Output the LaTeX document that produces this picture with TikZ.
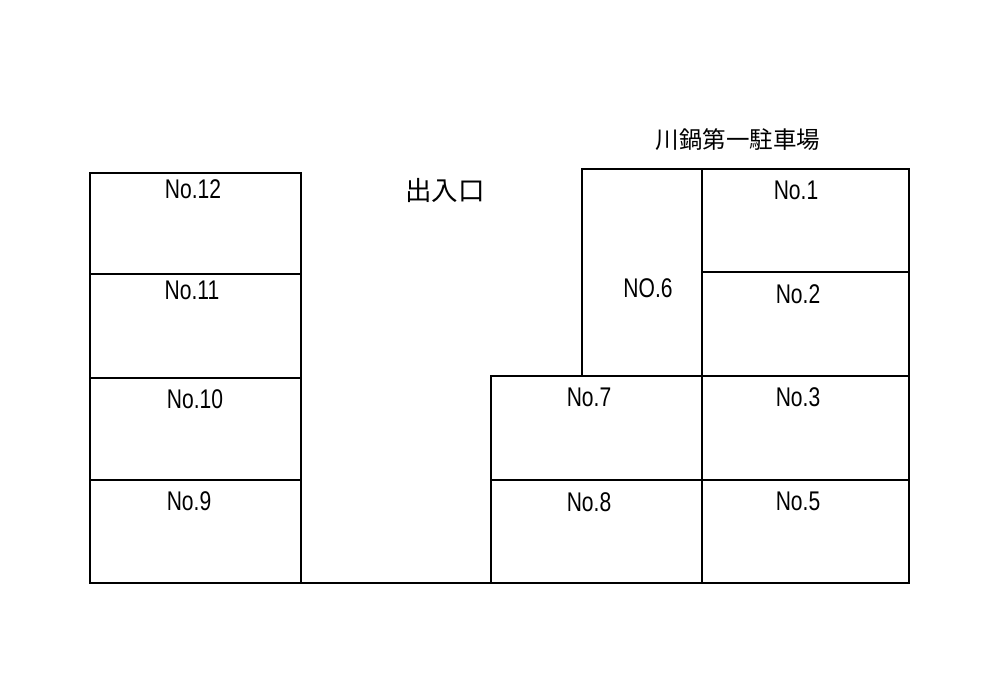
\documentclass[tikz,border=0pt]{standalone}
\usepackage{fontspec}
\setmainfont{Liberation Sans}
\newfontfamily\lotfont[FakeStretch = 0.78]{Liberation Sans}
\newfontfamily\cjk{Noto Sans CJK JP}
\tikzset{
	lot/.style = {draw = none, inner sep = 0 pt, font = \lotfont\fontsize{27}{27}\selectfont},
	sign/.style = {draw = none, inner sep = 0 pt, font = \cjk\fontsize{23.5}{24}\selectfont},
	wall/.style = {line width = 1.4 pt, black}
}

\begin{document}
\begin{tikzpicture}[x = 1 pt, y = -1 pt]
	 \useasboundingbox (0, 0) rectangle (1000, 700);
	 
	 \draw[wall] (90, 173) rectangle (301, 583);
	 \draw[wall] (90, 274) -- (301, 274);
	 \draw[wall] (90, 378) -- (301, 378);
	 \draw[wall] (90, 480) -- (301, 480);
	 
	 \draw[wall] (301, 583) -- (909, 583) -- (909, 169) -- (582, 169) -- (582, 376);
	 \draw[wall] (491, 583) -- (491, 376) -- (909, 376);
	 \draw[wall] (702, 169) -- (702, 583);
	 \draw[wall] (702, 272) -- (909, 272);
	 \draw[wall] (491, 480) -- (909, 480);
	 
	 \node[lot] (no12) at (193, 189) {No.12};
	 \node[lot] (no11) at (192, 290) {No.11};
	 \node[lot] (no10) at (195, 399) {No.10};
	 \node[lot] (no9) at (189, 501) {No.9};
	 
	 \node[lot] (no1) at (796, 190) {No.1};
	 \node[lot] (no2) at (798, 294) {No.2};
	 \node[lot] (no3) at (798, 397) {No.3};
	 \node[lot] (no5) at (798, 501) {No.5};
	 \node[lot] (no6) at (648, 288) {NO.6};
	 \node[lot] (no7) at (589, 397) {No.7};
	 \node[lot] (no8) at (589, 502) {No.8};
	 
	 \node[sign, font = \cjk\fontsize{26.5}{27}\selectfont] (gate) at (445, 190) {出入口};
	 \node[sign] (title) at (738, 140) {川鍋第一駐車場};
\end{tikzpicture}
\end{document}
